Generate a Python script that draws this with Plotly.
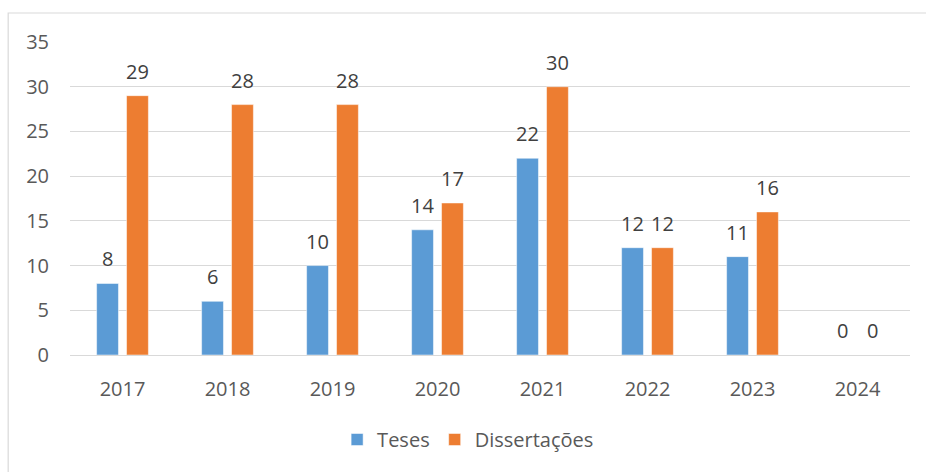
import plotly.graph_objects as go

anos = ['2017', '2018', '2019', '2020', '2021', '2022', '2023', '2024']
teses = [8, 6, 10, 14, 22, 12, 11, 0]
dissertacoes = [29, 28, 28, 17, 30, 12, 16, 0]

BLUE = '#5B9BD5'
ORANGE = '#ED7D31'
FONT = 'Open Sans'

fig = go.Figure()
fig.add_trace(go.Bar(x=anos, y=teses, name='Teses', marker=dict(color=BLUE, line=dict(color='white', width=0.5))))
fig.add_trace(go.Bar(x=anos, y=dissertacoes, name='Dissertações', marker=dict(color=ORANGE, line=dict(color='white', width=0.5))))

# data labels above each bar (grouped offset in category units)
bargap = 0.43
off = (1 - bargap) / 4
for i, (t, d) in enumerate(zip(teses, dissertacoes)):
    for dx, v in ((-off, t), (off, d)):
        fig.add_annotation(x=i + dx, y=v, text=str(v), showarrow=False, yanchor='bottom', yshift=9,
                           font=dict(family=FONT, size=20, color='#404040'))

# chart-area border (right and bottom edges fall outside the page)
fig.add_shape(type='rect', xref='paper', yref='paper', x0=-0.0736, x1=1.08, y0=-0.45, y1=1.0927,
              line=dict(color='#D9D9D9', width=1.2), fillcolor='rgba(0,0,0,0)', layer='below')

fig.update_layout(
    width=926, height=472,
    margin=dict(l=70, r=16, t=42, b=117),
    paper_bgcolor='white', plot_bgcolor='white',
    barmode='group', bargap=bargap, bargroupgap=0.27,
    font=dict(family=FONT, size=20, color='#595959'),
    showlegend=True,
    legend=dict(orientation='h', x=0.318, xanchor='left', y=-0.27, yanchor='middle',
                font=dict(size=20, color='#595959'), itemwidth=30, traceorder='normal'),
    xaxis=dict(showgrid=False, showline=False, ticks='', tickfont=dict(size=20), ticklabelstandoff=20),
    yaxis=dict(range=[0, 35], dtick=5, showgrid=True, gridcolor='#D9D9D9', gridwidth=1,
               zeroline=True, zerolinecolor='#D9D9D9', zerolinewidth=1,
               ticks='', tickfont=dict(size=20), ticklabelstandoff=20),
)

# drop the default page margin so the figure fills the window exactly
fig.write_html('out.html', config={'displayModeBar': False},
               post_script="document.body.style.margin='0';document.body.style.overflow='hidden';")
